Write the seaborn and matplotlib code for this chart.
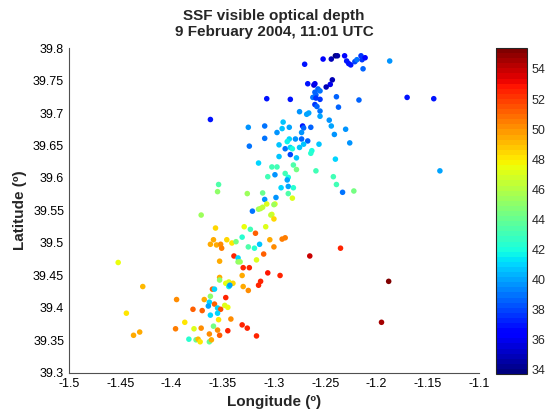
import matplotlib
matplotlib.use("Agg")
import matplotlib.pyplot as plt
import matplotlib.cm as cm
import matplotlib.colors as mcolors
import numpy as np
import pandas as pd
import seaborn as sns

# SSF optical depth footprints (longitude, latitude, optical depth)
lon = [
    -1.270, -1.252, -1.244, -1.240, -1.238, -1.231, -1.229, -1.227, -1.225, -1.221,
    -1.219, -1.215, -1.214, -1.211, -1.213, -1.187, -1.243, -1.245, -1.249, -1.267,
    -1.261, -1.260, -1.257, -1.255, -1.260, -1.259, -1.262, -1.259, -1.255, -1.260,
    -1.258, -1.284, -1.307, -1.239, -1.217, -1.237, -1.170, -1.144, -1.362, -1.255,
    -1.255, -1.275, -1.268, -1.266, -1.246, -1.244, -1.291, -1.285, -1.292, -1.272,
    -1.271, -1.264, -1.297, -1.273, -1.230, -1.241, -1.285, -1.287, -1.279, -1.273,
    -1.267, -1.226, -1.295, -1.271, -1.256, -1.309, -1.325, -1.309, -1.324, -1.315,
    -1.306, -1.354, -1.355, -1.326, -1.311, -1.309, -1.307, -1.289, -1.284, -1.282,
    -1.275, -1.263, -1.264, -1.284, -1.278, -1.295, -1.302, -1.297, -1.281, -1.278,
    -1.259, -1.299, -1.289, -1.286, -1.287, -1.242, -1.239, -1.240, -1.293, -1.286,
    -1.281, -1.286, -1.282, -1.298, -1.233, -1.222, -1.138, -1.299, -1.300, -1.315,
    -1.313, -1.311, -1.321, -1.302, -1.303, -1.300, -1.371, -1.357, -1.329, -1.323,
    -1.308, -1.318, -1.331, -1.359, -1.362, -1.356, -1.352, -1.351, -1.346, -1.341,
    -1.337, -1.325, -1.319, -1.314, -1.304, -1.300, -1.292, -1.289, -1.339, -1.335,
    -1.335, -1.333, -1.317, -1.310, -1.353, -1.330, -1.324, -1.306, -1.294, -1.265,
    -1.235, -1.188, -1.195, -1.331, -1.353, -1.353, -1.347, -1.344, -1.340, -1.344,
    -1.343, -1.330, -1.325, -1.313, -1.315, -1.360, -1.358, -1.347, -1.362, -1.368,
    -1.363, -1.358, -1.364, -1.348, -1.345, -1.355, -1.352, -1.379, -1.370, -1.362,
    -1.355, -1.387, -1.354, -1.342, -1.331, -1.326, -1.378, -1.371, -1.359, -1.355,
    -1.345, -1.363, -1.353, -1.317, -1.383, -1.376, -1.374, -1.372, -1.363, -1.361,
    -1.452, -1.428, -1.444, -1.437, -1.431, -1.395, -1.396,
]
lat = [
    39.775, 39.783, 39.783, 39.788, 39.788, 39.788, 39.780, 39.776, 39.774, 39.779,
    39.782, 39.788, 39.782, 39.785, 39.768, 39.780, 39.751, 39.744, 39.740, 39.745,
    39.743, 39.745, 39.737, 39.734, 39.732, 39.728, 39.724, 39.723, 39.721, 39.713,
    39.710, 39.721, 39.722, 39.725, 39.720, 39.709, 39.724, 39.722, 39.690, 39.703,
    39.695, 39.702, 39.698, 39.700, 39.689, 39.680, 39.686, 39.678, 39.676, 39.680,
    39.677, 39.678, 39.670, 39.670, 39.675, 39.667, 39.660, 39.656, 39.660, 39.660,
    39.657, 39.654, 39.651, 39.652, 39.652, 39.680, 39.678, 39.661, 39.649, 39.623,
    39.602, 39.590, 39.579, 39.576, 39.577, 39.567, 39.560, 39.645, 39.647, 39.645,
    39.647, 39.642, 39.638, 39.636, 39.631, 39.633, 39.617, 39.617, 39.620, 39.613,
    39.611, 39.605, 39.607, 39.601, 39.597, 39.602, 39.590, 39.629, 39.585, 39.587,
    39.585, 39.576, 39.569, 39.570, 39.578, 39.580, 39.611, 39.560, 39.559, 39.552,
    39.553, 39.555, 39.549, 39.544, 39.543, 39.537, 39.543, 39.523, 39.525, 39.521,
    39.525, 39.515, 39.509, 39.505, 39.498, 39.497, 39.498, 39.492, 39.505, 39.500,
    39.502, 39.494, 39.492, 39.498, 39.505, 39.494, 39.506, 39.508, 39.480, 39.477,
    39.471, 39.471, 39.474, 39.483, 39.472, 39.462, 39.462, 39.454, 39.450, 39.480,
    39.492, 39.441, 39.378, 39.450, 39.447, 39.443, 39.438, 39.440, 39.438, 39.433,
    39.435, 39.433, 39.427, 39.441, 39.435, 39.429, 39.429, 39.416, 39.418, 39.413,
    39.409, 39.406, 39.403, 39.404, 39.401, 39.400, 39.398, 39.398, 39.396, 39.389,
    39.392, 39.378, 39.382, 39.383, 39.374, 39.369, 39.368, 39.369, 39.372, 39.366,
    39.365, 39.360, 39.358, 39.357, 39.352, 39.351, 39.352, 39.348, 39.348, 39.351,
    39.470, 39.433, 39.392, 39.358, 39.363, 39.413, 39.368,
]
tau = [
    37.0, 36.5, 35.0, 34.0, 34.5, 36.5, 37.0, 37.0, 37.0, 38.0,
    39.0, 37.5, 37.5, 36.5, 38.5, 39.5, 35.0, 36.0, 35.0, 37.0,
    35.5, 36.0, 38.5, 39.0, 38.5, 38.5, 39.0, 37.5, 37.5, 37.5,
    38.5, 37.0, 37.0, 38.5, 38.5, 38.5, 37.0, 37.0, 37.0, 39.0,
    40.0, 39.5, 40.0, 40.0, 39.5, 40.0, 40.5, 40.0, 40.5, 37.0,
    38.5, 38.5, 39.5, 39.5, 39.5, 39.5, 41.0, 41.5, 39.5, 38.5,
    38.5, 39.5, 40.5, 40.5, 40.5, 39.0, 39.5, 39.0, 39.0, 41.0,
    43.0, 43.5, 45.0, 45.5, 44.0, 39.5, 47.0, 39.0, 41.0, 42.0,
    40.5, 42.0, 42.5, 38.0, 40.5, 40.5, 43.0, 43.0, 43.5, 44.5,
    43.0, 39.5, 43.0, 42.0, 40.0, 43.0, 43.0, 41.0, 41.0, 40.0,
    42.5, 43.5, 47.0, 39.5, 39.0, 44.5, 40.0, 47.0, 45.5, 45.5,
    46.0, 46.5, 39.0, 47.0, 46.5, 48.5, 45.5, 48.5, 47.5, 43.0,
    47.0, 51.0, 42.5, 49.5, 49.5, 49.5, 50.0, 50.5, 48.5, 48.0,
    44.5, 43.5, 42.5, 40.5, 49.5, 50.0, 50.5, 50.5, 52.5, 41.0,
    45.0, 45.5, 47.0, 51.0, 49.5, 52.5, 52.5, 53.0, 52.5, 54.0,
    52.5, 55.3, 54.5, 49.5, 49.5, 45.0, 47.5, 47.0, 48.5, 41.5,
    40.0, 49.5, 50.0, 52.5, 52.5, 51.0, 41.0, 52.5, 45.0, 49.5,
    41.0, 51.0, 40.0, 47.0, 47.5, 41.0, 51.5, 51.0, 51.0, 41.0,
    41.0, 48.0, 48.0, 50.0, 52.5, 52.5, 47.0, 50.0, 44.5, 50.0,
    52.5, 50.0, 51.0, 52.5, 42.5, 44.0, 49.0, 48.0, 44.0, 49.5,
    47.5, 49.0, 48.0, 49.5, 49.5, 50.0, 50.5,
]

df = pd.DataFrame({'lon': lon, 'lat': lat, 'tau': tau})

sns.set_style('white')
plt.rcParams['font.family'] = ['Liberation Sans', 'DejaVu Sans']

cmap = plt.get_cmap('jet', 64)
norm = mcolors.Normalize(vmin=33.7, vmax=55.4)

fig = plt.figure(figsize=(5.45, 4.16), dpi=100)
ax = fig.add_axes([0.1266, 0.1034, 0.752, 0.7812])
cax = fig.add_axes([0.910, 0.1010, 0.0569, 0.7837])

sns.scatterplot(data=df, x='lon', y='lat', hue='tau', palette=cmap, hue_norm=norm,
                legend=False, s=16, linewidth=0, ax=ax)

ax.set_xlim(-1.5, -1.1)
ax.set_ylim(39.3, 39.8)
ax.set_xticks(np.arange(-1.5, -1.09, 0.05))
ax.set_xticklabels(['-1.5', '-1.45', '-1.4', '-1.35', '-1.3', '-1.25', '-1.2', '-1.15', '-1.1'])
ax.set_yticks(np.arange(39.3, 39.81, 0.05))
ax.set_yticklabels(['39.3', '39.35', '39.4', '39.45', '39.5', '39.55', '39.6',
                    '39.65', '39.7', '39.75', '39.8'])
ax.tick_params(direction='in', length=4, labelsize=9, colors='black', width=0.8)
for side in ['top', 'right']:
    ax.spines[side].set_visible(False)
for side in ['left', 'bottom']:
    ax.spines[side].set_color('#505050')
    ax.spines[side].set_linewidth(0.8)

ax.set_xlabel('Longitude (º)', fontsize=11, fontweight='bold')
ax.set_ylabel('Latitude (º)', fontsize=11, fontweight='bold')
ax.set_title('SSF visible optical depth\n9 February 2004, 11:01 UTC',
             fontsize=11, fontweight='bold', linespacing=1.15, pad=9)

sm = cm.ScalarMappable(norm=norm, cmap=cmap)
cb = fig.colorbar(sm, cax=cax)
cb.set_ticks(np.arange(34, 55, 2))
cax.tick_params(direction='in', length=3, labelsize=9, left=True, right=True, width=0.8)
cb.outline.set_linewidth(0.8)

plt.savefig('out.png', dpi=100)
